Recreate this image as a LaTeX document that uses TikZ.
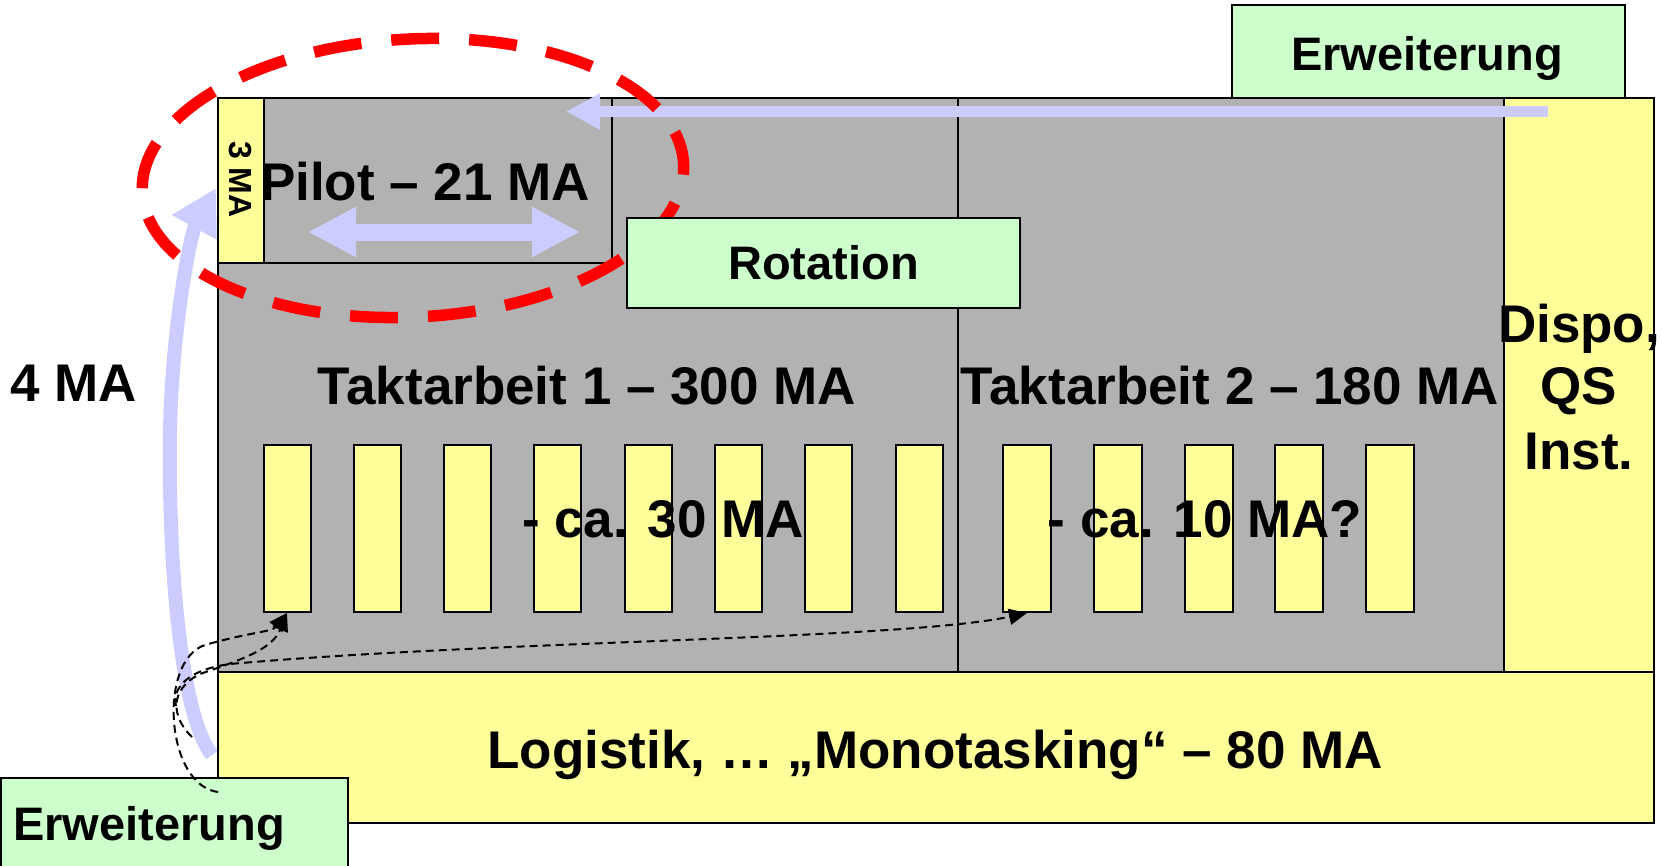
\documentclass[tikz,border=0pt]{standalone}
\usepackage{fontspec}
\setmainfont{Liberation Sans}
\usetikzlibrary{arrows.meta}
\definecolor{graybg}{HTML}{B2B2B2}
\definecolor{yel}{HTML}{FFFF99}
\definecolor{grn}{HTML}{CCFFCC}
\definecolor{lav}{HTML}{CCCCFF}
\definecolor{redc}{HTML}{FF0000}
\begin{document}
\begin{tikzpicture}[x=1pt,y=-1pt,
  box/.style={draw=black, line width=2pt, inner sep=0pt, anchor=north west},
  big/.style={font=\bfseries\fontsize{53}{63}\selectfont, inner sep=0pt},
  mid/.style={font=\bfseries\fontsize{47}{56}\selectfont, inner sep=0pt},
  slot/.style={box, fill=yel, minimum width=47pt, minimum height=167pt},
  flow/.style={draw=black, line width=2pt, dash pattern=on 8pt off 5pt, -{Triangle[length=18pt,width=16pt]}},
  lavarrow/.style={draw=lav, line cap=butt},
]
\useasboundingbox (0,0) rectangle (1662,865);

% 4 MA curve (behind everything)
\coordinate (s4) at (212,755);
\coordinate (e4) at (216,188);
\draw[lavarrow, line width=14pt, -{Triangle[length=45pt,width=48pt]}]
  (s4) .. controls (180,715) and (168,560) .. (170,430)
       .. controls (172,330) and (190,235) .. (e4);

% main areas
\node[box, fill=graybg, line width=1.5pt, minimum width=1286pt, minimum height=574pt] (gray) at (217,97) {};
\draw[line width=1.5pt] (958,97) -- (958,671);
\node[box, fill=yel, minimum width=150pt, minimum height=574pt] (dispo) at (1503,97) {};
\node[box, fill=yel, minimum width=1436pt, minimum height=151pt] (logi) at (217,671) {};

% pilot
\node[box, fill=graybg, minimum width=393.6pt, minimum height=165pt] (pilot) at (217,97) {};
\node[box, fill=yel, minimum width=45.7pt, minimum height=165pt] (strip) at (217,97) {};
\node[rotate=-90, font=\bfseries\fontsize{32}{38}\selectfont, inner sep=0pt] (ma3) at (240,179.5) {3 MA};
\node[big, anchor=base] (pilottxt) at (425,200) {Pilot – 21 MA};
\coordinate (p0) at (308,232);
\coordinate (p1) at (580,232);
\draw[lavarrow, line width=17pt, {Triangle[length=48pt,width=47pt]}-{Triangle[length=48pt,width=47pt]}] (p0) -- (p1);

% slots
\foreach \i in {0,...,7} \node[slot] (a\i) at ({262.5+90.3*\i},444) {};
\foreach \i in {0,...,4} \node[slot, minimum width=48pt] (b\i) at ({1002+90.75*\i},444) {};

% texts
\node[big, anchor=base] (t1) at (587,404) {Taktarbeit 1 – 300 MA};
\node[big, anchor=base] (t2) at (1230,404) {Taktarbeit 2 – 180 MA};
\node[big, anchor=base] (ca30) at (663,537) {- ca. 30 MA};
\node[big, anchor=base] (ca10) at (1205,537) {- ca. 10 MA?};
\node[big, anchor=base] (d1) at (1579,342) {Dispo,};
\node[big, anchor=base] (d2) at (1579,404) {QS};
\node[big, anchor=base] (d3) at (1579,469) {Inst.};
\node[big, anchor=base] (ma4) at (74,401) {4 MA};
\node[big, anchor=base] (logitxt) at (935,768) {Logistik, … „Monotasking“ – 80 MA};

% top blue arrow
\coordinate (r0) at (1548,111.5);
\coordinate (r1) at (566,111.5);
\draw[lavarrow, line width=11pt, -{Triangle[length=34pt,width=34pt]}] (r0) -- (r1);

% red ellipse
\draw[redc, line width=11.5pt, dash pattern=on 48pt off 30pt, dash phase=15pt, rotate around={3:(413,178)}]
  (413,178) ellipse [x radius=271pt, y radius=139pt];

% green boxes
\node[box, fill=grn, minimum width=393pt, minimum height=90pt] (rot) at (626,217) {};
\node[mid] at (rot.center) {Rotation};
\node[box, fill=grn, minimum width=393pt, minimum height=93pt] (erw1) at (1231,4) {};
\node[mid, anchor=base] (erw1txt) at (1427,70) {Erweiterung};
\node[box, fill=grn, minimum width=347pt, minimum height=100pt] (erw2) at (0,777) {};
\node[mid, anchor=base west] (erw2txt) at (13,840) {Erweiterung};

% dashed connectors
\coordinate (c1s) at (218,792);
\coordinate (c2s) at (192,737);
\coordinate (c3s) at (176,706);
\draw[flow] (c1s) .. controls (165,785) and (158,660) .. (205,645)
                  .. controls (250,632) and (272,632) .. (a0.south);
\draw[flow] (c2s) .. controls (172,718) and (168,690) .. (200,674)
                  .. controls (240,660) and (272,650) .. (a0.south);
\draw[flow] (c3s) .. controls (172,690) and (185,670) .. (230,664)
                  .. controls (500,640) and (900,640) .. (b0.south);
\end{tikzpicture}
\end{document}
